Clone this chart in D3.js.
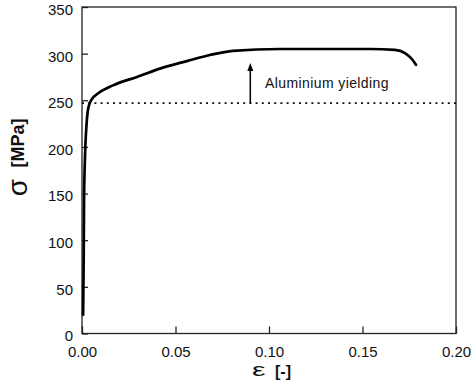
<!DOCTYPE html>
<html>
<head>
<meta charset="utf-8">
<script src="https://cdn.jsdelivr.net/npm/d3@7"></script>
<style>
  html, body { margin: 0; padding: 0; background: #fff; }
  svg { display: block; }
  text { font-family: "Liberation Sans", Arial, sans-serif; fill: #111; }
</style>
</head>
<body>
<svg id="chart" width="474" height="389"></svg>
<script>
// ---- data ----
const strain = [0.0006, 0.0009, 0.0011, 0.0016, 0.0025, 0.0034, 0.0052, 0.0087, 0.0166, 0.0294, 0.0433, 0.0561, 0.0684, 0.0807, 0.1059, 0.1380, 0.1540, 0.1674, 0.1727, 0.1765, 0.1786];
const stress = [20, 80, 143, 189, 226, 242, 251, 257.5, 266, 275, 285, 292, 298.5, 303, 305, 305, 305, 304, 300.6, 294, 288];
const xTicks = [0, 0.05, 0.10, 0.15, 0.20];
const yTicks = [0, 50, 100, 150, 200, 250, 300, 350];
const yieldStress = [247];
const arrowStrain = [0.09];
const arrowTipStress = [290];
const annotation = ["Aluminium yielding"];

// ---- layout ----
const svg = d3.select("#chart");
const L = 82, R = 456, T = 7, B = 333.5;
const x = d3.scaleLinear().domain([0, 0.2]).range([L, R]);
const y = d3.scaleLinear().domain([0, 350]).range([B, T]);
const axisColor = "#222";

// frame
svg.append("rect").attr("x", L).attr("y", T).attr("width", R - L).attr("height", B - T)
  .attr("fill", "none").attr("stroke", axisColor).attr("stroke-width", 1.3);

// axes with inward ticks
const xAxis = d3.axisBottom(x).tickValues(xTicks).tickFormat(d3.format(".2f")).tickSize(-7).tickPadding(0);
const gx = svg.append("g").attr("transform", `translate(0,${B})`).call(xAxis);
gx.select(".domain").remove();
gx.selectAll(".tick line").attr("stroke", axisColor).attr("stroke-width", 1.3);
gx.selectAll(".tick text").attr("y", 23).attr("dy", null)
  .style("font-size", "15px").style("fill", "#111");

const yAxis = d3.axisLeft(y).tickValues(yTicks).tickSize(-6).tickPadding(0);
const gy = svg.append("g").attr("transform", `translate(${L},0)`).call(yAxis);
gy.select(".domain").remove();
gy.selectAll(".tick line").attr("stroke", axisColor).attr("stroke-width", 1.3);
gy.selectAll(".tick text").attr("x", -9).attr("dy", null).attr("y", 7.4)
  .style("font-size", "15px").style("fill", "#111");

// dotted yield line
svg.append("line")
  .attr("x1", x(0)).attr("x2", x(0.2))
  .attr("y1", y(yieldStress[0])).attr("y2", y(yieldStress[0]))
  .attr("stroke", "#111").attr("stroke-width", 1.8).attr("stroke-dasharray", "2,4.2");

// curve
const pts = strain.map((s, i) => [s, stress[i]]);
svg.append("path").datum(pts)
  .attr("d", d3.line().x(d => x(d[0])).y(d => y(d[1])).curve(d3.curveMonotoneX))
  .attr("fill", "none").attr("stroke", "#000").attr("stroke-width", 2.7)
  .attr("stroke-linejoin", "round").attr("stroke-linecap", "round");

// arrow
const ax = x(arrowStrain[0]);
const tipY = y(arrowTipStress[0]);
svg.append("line").attr("x1", ax).attr("x2", ax)
  .attr("y1", y(yieldStress[0])).attr("y2", tipY + 6)
  .attr("stroke", "#000").attr("stroke-width", 1.5);
svg.append("path")
  .attr("d", `M${ax},${tipY} L${ax - 3},${tipY + 8} L${ax + 3},${tipY + 8} Z`)
  .attr("fill", "#000");

// annotation
svg.append("text").attr("x", 265).attr("y", 88)
  .style("font-size", "14px").style("letter-spacing", "0.4px")
  .text(annotation[0]);

// x-axis title: ε [-]
svg.append("text").attr("transform", "translate(252,376) scale(1.6,1)")
  .style("font-size", "19px").text("ε");
svg.append("text").attr("x", 275).attr("y", 377)
  .style("font-size", "16px").style("font-weight", "bold").text("[-]");

// y-axis title: σ [MPa]
svg.append("text").attr("transform", "translate(27,187.5) rotate(-90)")
  .attr("text-anchor", "middle").style("font-size", "28px").text("σ");
svg.append("text").attr("transform", "translate(24,143) rotate(-90)")
  .attr("text-anchor", "middle").style("font-size", "18px").style("font-weight", "bold").text("[MPa]");
</script>
</body>
</html>
